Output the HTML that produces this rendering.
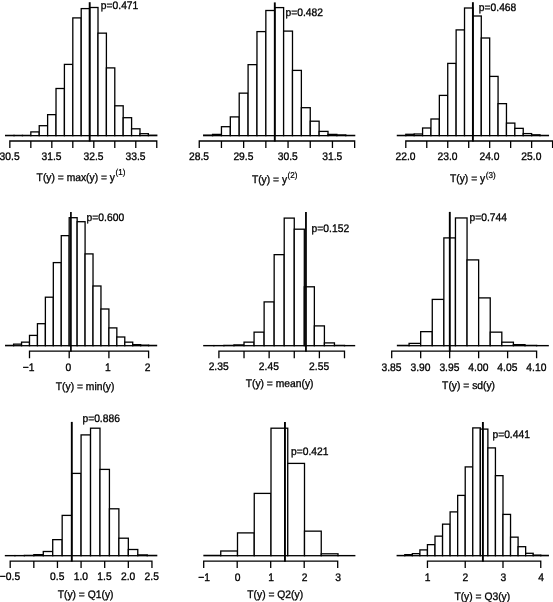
<!DOCTYPE html>
<html><head><meta charset="utf-8"><title>Posterior predictive checks</title>
<style>
html,body{margin:0;padding:0;background:#fff;}
svg{display:block;will-change:transform;filter:grayscale(1);}
text{text-rendering:geometricPrecision;}
text{font-family:"Liberation Sans",sans-serif;font-size:10.3px;fill:#000;stroke:#000;stroke-width:0.3px;}
.s{font-size:8.1px;stroke-width:0.2px;}
.l{stroke:#000;stroke-width:1.3;fill:none;}
.b{stroke:#000;stroke-width:1.3;fill:#fff;}
</style></head>
<body>
<svg width="553" height="602" viewBox="0 0 553 602">
<rect x="0" y="0" width="553" height="602" fill="#fff"/>
<g id="panel1">
<g transform="translate(0,0.4)">
<rect class="b" x="5.64" y="135" width="8.4" height="0.25"/>
<rect class="b" x="14.04" y="135" width="8.4" height="0.25"/>
<rect class="b" x="22.43" y="135" width="8.4" height="0.25"/>
<rect class="b" x="30.83" y="131.5" width="8.4" height="3.75"/>
<rect class="b" x="39.23" y="125.3" width="8.4" height="9.95"/>
<rect class="b" x="47.62" y="114.25" width="8.4" height="21"/>
<rect class="b" x="56.02" y="88.1" width="8.4" height="47.15"/>
<rect class="b" x="64.41" y="64" width="8.4" height="71.25"/>
<rect class="b" x="72.81" y="17.5" width="8.4" height="117.75"/>
<rect class="b" x="81.21" y="8.2" width="8.4" height="127.05"/>
<rect class="b" x="89.6" y="7.1" width="8.4" height="128.15"/>
<rect class="b" x="98" y="32.75" width="8.4" height="102.5"/>
<rect class="b" x="106.39" y="67.5" width="8.4" height="67.75"/>
<rect class="b" x="114.79" y="105.4" width="8.4" height="29.85"/>
<rect class="b" x="123.19" y="117.3" width="8.4" height="17.95"/>
<rect class="b" x="131.58" y="128.4" width="8.4" height="6.85"/>
<rect class="b" x="139.98" y="133.3" width="8.4" height="1.95"/>
<rect class="b" x="148.37" y="134.8" width="8.4" height="0.45"/>
<path class="l" d="M9.84 147.6 V140.6 H156.77 V147.6 M30.83 140.6 v7 M51.82 140.6 v7 M72.81 140.6 v7 M93.8 140.6 v7 M114.79 140.6 v7 M135.78 140.6 v7"/>
<line x1="89.7" y1="1.8" x2="89.7" y2="141.2" stroke="#000" stroke-width="1.9"/>
</g>
<text transform="translate(9.59 160.45) scale(1 1.06)" text-anchor="middle">30.5</text>
<text transform="translate(51.57 160.45) scale(1 1.06)" text-anchor="middle">31.5</text>
<text transform="translate(93.55 160.45) scale(1 1.06)" text-anchor="middle">32.5</text>
<text transform="translate(135.53 160.45) scale(1 1.06)" text-anchor="middle">33.5</text>
<text transform="translate(100.8 8.9) scale(1 1.06)">p=0.471</text>
<text transform="translate(36.6 181.3) scale(1 1.06)">T(y) = max(y) = y<tspan class="s" dx="0.5" dy="-5.66038">(1)</tspan></text>
</g>
<g id="panel2">
<g transform="translate(0,0.4)">
<rect class="b" x="203.69" y="134.7" width="8.88" height="0.55"/>
<rect class="b" x="212.57" y="134" width="8.88" height="1.25"/>
<rect class="b" x="221.45" y="126.3" width="8.88" height="8.95"/>
<rect class="b" x="230.33" y="116.5" width="8.88" height="18.75"/>
<rect class="b" x="239.21" y="92.75" width="8.88" height="42.5"/>
<rect class="b" x="248.09" y="64.25" width="8.88" height="71"/>
<rect class="b" x="256.97" y="31.2" width="8.88" height="104.05"/>
<rect class="b" x="265.85" y="10.1" width="8.88" height="125.15"/>
<rect class="b" x="274.73" y="7.2" width="8.88" height="128.05"/>
<rect class="b" x="283.61" y="30.7" width="8.88" height="104.55"/>
<rect class="b" x="292.49" y="70" width="8.88" height="65.25"/>
<rect class="b" x="301.37" y="107.3" width="8.88" height="27.95"/>
<rect class="b" x="310.25" y="120.8" width="8.88" height="14.45"/>
<rect class="b" x="319.13" y="131" width="8.88" height="4.25"/>
<rect class="b" x="328.01" y="134" width="8.88" height="1.25"/>
<rect class="b" x="336.89" y="134.5" width="8.88" height="0.75"/>
<rect class="b" x="345.77" y="135" width="8.88" height="0.25"/>
<path class="l" d="M199.25 147.6 V140.6 H354.65 V147.6 M221.45 140.6 v7 M243.65 140.6 v7 M265.85 140.6 v7 M288.05 140.6 v7 M310.25 140.6 v7 M332.45 140.6 v7"/>
<line x1="274.8" y1="2" x2="274.8" y2="141.2" stroke="#000" stroke-width="1.9"/>
</g>
<text transform="translate(199 160.45) scale(1 1.06)" text-anchor="middle">28.5</text>
<text transform="translate(243.4 160.45) scale(1 1.06)" text-anchor="middle">29.5</text>
<text transform="translate(287.8 160.45) scale(1 1.06)" text-anchor="middle">30.5</text>
<text transform="translate(332.2 160.45) scale(1 1.06)" text-anchor="middle">31.5</text>
<text transform="translate(285.5 15.5) scale(1 1.06)">p=0.482</text>
<text transform="translate(251.9 182.6) scale(1 1.06)">T(y) = y<tspan class="s" dx="0.5" dy="-4.62264">(2)</tspan></text>
</g>
<g id="panel3">
<g transform="translate(0,0.4)">
<rect class="b" x="397.41" y="135" width="8.39" height="0.25"/>
<rect class="b" x="405.8" y="133.9" width="8.39" height="1.35"/>
<rect class="b" x="414.19" y="133.6" width="8.39" height="1.65"/>
<rect class="b" x="422.58" y="127.6" width="8.39" height="7.65"/>
<rect class="b" x="430.96" y="118.6" width="8.39" height="16.65"/>
<rect class="b" x="439.35" y="95" width="8.39" height="40.25"/>
<rect class="b" x="447.74" y="63" width="8.39" height="72.25"/>
<rect class="b" x="456.13" y="29.5" width="8.39" height="105.75"/>
<rect class="b" x="464.52" y="7.6" width="8.39" height="127.65"/>
<rect class="b" x="472.9" y="15.6" width="8.39" height="119.65"/>
<rect class="b" x="481.29" y="37.6" width="8.39" height="97.65"/>
<rect class="b" x="489.68" y="76" width="8.39" height="59.25"/>
<rect class="b" x="498.07" y="103.25" width="8.39" height="32"/>
<rect class="b" x="506.46" y="122.7" width="8.39" height="12.55"/>
<rect class="b" x="514.84" y="127.95" width="8.39" height="7.3"/>
<rect class="b" x="523.23" y="133.2" width="8.39" height="2.05"/>
<rect class="b" x="531.62" y="134.4" width="8.39" height="0.85"/>
<rect class="b" x="540.01" y="135" width="8.39" height="0.25"/>
<path class="l" d="M405.8 147.6 V140.6 H552.59 V147.6 M426.77 140.6 v7 M447.74 140.6 v7 M468.71 140.6 v7 M489.68 140.6 v7 M510.65 140.6 v7 M531.62 140.6 v7"/>
<line x1="472.9" y1="1.8" x2="472.9" y2="141.2" stroke="#000" stroke-width="1.9"/>
</g>
<text transform="translate(405.55 160.45) scale(1 1.06)" text-anchor="middle">22.0</text>
<text transform="translate(447.49 160.45) scale(1 1.06)" text-anchor="middle">23.0</text>
<text transform="translate(489.43 160.45) scale(1 1.06)" text-anchor="middle">24.0</text>
<text transform="translate(531.37 160.45) scale(1 1.06)" text-anchor="middle">25.0</text>
<text transform="translate(478.8 10.5) scale(1 1.06)">p=0.468</text>
<text transform="translate(450 182.25) scale(1 1.06)">T(y) = y<tspan class="s" dx="0.5" dy="-4.24528">(3)</tspan></text>
</g>
<g id="panel4">
<g transform="translate(0,0.4)">
<rect class="b" x="5.68" y="345" width="7.94" height="0.3"/>
<rect class="b" x="13.62" y="343.75" width="7.94" height="1.55"/>
<rect class="b" x="21.56" y="341.75" width="7.94" height="3.55"/>
<rect class="b" x="29.5" y="335" width="7.94" height="10.3"/>
<rect class="b" x="37.44" y="323.3" width="7.94" height="22"/>
<rect class="b" x="45.38" y="296.8" width="7.94" height="48.5"/>
<rect class="b" x="53.32" y="262.2" width="7.94" height="83.1"/>
<rect class="b" x="61.26" y="235.25" width="7.94" height="110.05"/>
<rect class="b" x="69.2" y="217.3" width="7.94" height="128"/>
<rect class="b" x="77.14" y="221.3" width="7.94" height="124"/>
<rect class="b" x="85.08" y="253.5" width="7.94" height="91.8"/>
<rect class="b" x="93.02" y="285.6" width="7.94" height="59.7"/>
<rect class="b" x="100.96" y="308.6" width="7.94" height="36.7"/>
<rect class="b" x="108.9" y="327.5" width="7.94" height="17.8"/>
<rect class="b" x="116.84" y="336.6" width="7.94" height="8.7"/>
<rect class="b" x="124.78" y="341.75" width="7.94" height="3.55"/>
<rect class="b" x="132.72" y="344.25" width="7.94" height="1.05"/>
<rect class="b" x="140.66" y="344.75" width="7.94" height="0.55"/>
<rect class="b" x="148.6" y="345" width="7.94" height="0.3"/>
<path class="l" d="M29.5 357.8 V350.8 H148.6 V357.8 M69.2 350.8 v7 M108.9 350.8 v7"/>
<line x1="70.9" y1="211.5" x2="70.9" y2="351.4" stroke="#000" stroke-width="1.7"/>
</g>
<text transform="translate(28.55 371.35) scale(1 1.06)" text-anchor="middle">−1</text>
<text transform="translate(68.25 371.35) scale(1 1.06)" text-anchor="middle">0</text>
<text transform="translate(107.95 371.35) scale(1 1.06)" text-anchor="middle">1</text>
<text transform="translate(147.65 371.35) scale(1 1.06)" text-anchor="middle">2</text>
<text transform="translate(86.6 220.5) scale(1 1.06)">p=0.600</text>
<text transform="translate(55.8 389.5) scale(1 1.06)">T(y) = min(y)</text>
</g>
<g id="panel5">
<g transform="translate(0,0.4)">
<rect class="b" x="203.83" y="345.2" width="10.05" height="0.1"/>
<rect class="b" x="213.88" y="345.2" width="10.05" height="0.1"/>
<rect class="b" x="223.92" y="345" width="10.05" height="0.3"/>
<rect class="b" x="233.97" y="344.5" width="10.05" height="0.8"/>
<rect class="b" x="244.02" y="341.75" width="10.05" height="3.55"/>
<rect class="b" x="254.07" y="331.75" width="10.05" height="13.55"/>
<rect class="b" x="264.12" y="301.5" width="10.05" height="43.8"/>
<rect class="b" x="274.16" y="254.25" width="10.05" height="91.05"/>
<rect class="b" x="284.21" y="217.7" width="10.05" height="127.6"/>
<rect class="b" x="294.26" y="228.8" width="10.05" height="116.5"/>
<rect class="b" x="304.31" y="286.4" width="10.05" height="58.9"/>
<rect class="b" x="314.36" y="325.5" width="10.05" height="19.8"/>
<rect class="b" x="324.4" y="342.5" width="10.05" height="2.8"/>
<rect class="b" x="334.45" y="345" width="10.05" height="0.3"/>
<rect class="b" x="344.5" y="345.2" width="10.05" height="0.1"/>
<path class="l" d="M218.9 357.8 V350.8 H344.5 V357.8 M244.02 350.8 v7 M269.14 350.8 v7 M294.26 350.8 v7 M319.38 350.8 v7"/>
<line x1="305.95" y1="211.5" x2="305.95" y2="351.4" stroke="#000" stroke-width="1.8"/>
</g>
<text transform="translate(218.65 370.25) scale(1 1.06)" text-anchor="middle">2.35</text>
<text transform="translate(268.89 370.25) scale(1 1.06)" text-anchor="middle">2.45</text>
<text transform="translate(319.13 370.25) scale(1 1.06)" text-anchor="middle">2.55</text>
<text transform="translate(311.6 232) scale(1 1.06)">p=0.152</text>
<text transform="translate(245.7 387.3) scale(1 1.06)">T(y) = mean(y)</text>
</g>
<g id="panel6">
<g transform="translate(0,0.4)">
<rect class="b" x="397.5" y="345" width="11.59" height="0.3"/>
<rect class="b" x="409.09" y="343" width="11.59" height="2.3"/>
<rect class="b" x="420.68" y="331.25" width="11.59" height="14.05"/>
<rect class="b" x="432.27" y="299" width="11.59" height="46.3"/>
<rect class="b" x="443.86" y="237.5" width="11.59" height="107.8"/>
<rect class="b" x="455.46" y="217.55" width="11.59" height="127.75"/>
<rect class="b" x="467.05" y="259.5" width="11.59" height="85.8"/>
<rect class="b" x="478.64" y="297.5" width="11.59" height="47.8"/>
<rect class="b" x="490.23" y="331.75" width="11.59" height="13.55"/>
<rect class="b" x="501.82" y="341.8" width="11.59" height="3.5"/>
<rect class="b" x="513.42" y="344.25" width="11.59" height="1.05"/>
<rect class="b" x="525.01" y="345" width="11.59" height="0.3"/>
<rect class="b" x="536.6" y="345.2" width="11.59" height="0.1"/>
<path class="l" d="M391.7 357.8 V350.8 H536.6 V357.8 M420.68 350.8 v7 M449.66 350.8 v7 M478.64 350.8 v7 M507.62 350.8 v7"/>
<line x1="449.8" y1="211.5" x2="449.8" y2="351.4" stroke="#000" stroke-width="1.9"/>
</g>
<text transform="translate(391.45 370.95) scale(1 1.06)" text-anchor="middle">3.85</text>
<text transform="translate(420.43 370.95) scale(1 1.06)" text-anchor="middle">3.90</text>
<text transform="translate(449.41 370.95) scale(1 1.06)" text-anchor="middle">3.95</text>
<text transform="translate(478.39 370.95) scale(1 1.06)" text-anchor="middle">4.00</text>
<text transform="translate(507.37 370.95) scale(1 1.06)" text-anchor="middle">4.05</text>
<text transform="translate(536.35 370.95) scale(1 1.06)" text-anchor="middle">4.10</text>
<text transform="translate(469.5 220.5) scale(1 1.06)">p=0.744</text>
<text transform="translate(442.1 388.5) scale(1 1.06)">T(y) = sd(y)</text>
</g>
<g id="panel7">
<g transform="translate(0,0.4)">
<rect class="b" x="5.48" y="555.2" width="9.45" height="0.1"/>
<rect class="b" x="14.93" y="555.2" width="9.45" height="0.1"/>
<rect class="b" x="24.38" y="555" width="9.45" height="0.3"/>
<rect class="b" x="33.83" y="554.25" width="9.45" height="1.05"/>
<rect class="b" x="43.28" y="551.1" width="9.45" height="4.2"/>
<rect class="b" x="52.72" y="539.25" width="9.45" height="16.05"/>
<rect class="b" x="62.17" y="515" width="9.45" height="40.3"/>
<rect class="b" x="71.63" y="473" width="9.45" height="82.3"/>
<rect class="b" x="81.08" y="434.5" width="9.45" height="120.8"/>
<rect class="b" x="90.53" y="427.8" width="9.45" height="127.5"/>
<rect class="b" x="99.97" y="469" width="9.45" height="86.3"/>
<rect class="b" x="109.43" y="508.4" width="9.45" height="46.9"/>
<rect class="b" x="118.88" y="537.8" width="9.45" height="17.5"/>
<rect class="b" x="128.32" y="549.1" width="9.45" height="6.2"/>
<rect class="b" x="137.78" y="554.5" width="9.45" height="0.8"/>
<rect class="b" x="147.22" y="555" width="9.45" height="0.3"/>
<path class="l" d="M10.2 567.7 V560.7 H151.95 V567.7 M33.83 560.7 v7 M57.45 560.7 v7 M81.08 560.7 v7 M104.7 560.7 v7 M128.32 560.7 v7"/>
<line x1="71.8" y1="421.5" x2="71.8" y2="561.3" stroke="#000" stroke-width="1.9"/>
</g>
<text transform="translate(9.95 580.25) scale(1 1.06)" text-anchor="middle">−0.5</text>
<text transform="translate(57.2 580.25) scale(1 1.06)" text-anchor="middle">0.5</text>
<text transform="translate(80.83 580.25) scale(1 1.06)" text-anchor="middle">1.0</text>
<text transform="translate(104.45 580.25) scale(1 1.06)" text-anchor="middle">1.5</text>
<text transform="translate(128.07 580.25) scale(1 1.06)" text-anchor="middle">2.0</text>
<text transform="translate(151.7 580.25) scale(1 1.06)" text-anchor="middle">2.5</text>
<text transform="translate(82.4 422.3) scale(1 1.06)">p=0.886</text>
<text transform="translate(57.7 598.1) scale(1 1.06)">T(y) = Q1(y)</text>
</g>
<g id="panel8">
<g transform="translate(0,0.4)">
<rect class="b" x="204" y="555" width="16.75" height="0.3"/>
<rect class="b" x="220.75" y="550.6" width="16.75" height="4.7"/>
<rect class="b" x="237.5" y="532.5" width="16.75" height="22.8"/>
<rect class="b" x="254.25" y="493" width="16.75" height="62.3"/>
<rect class="b" x="271" y="427.8" width="16.75" height="127.5"/>
<rect class="b" x="287.75" y="463" width="16.75" height="92.3"/>
<rect class="b" x="304.5" y="530.75" width="16.75" height="24.55"/>
<rect class="b" x="321.25" y="553.4" width="16.75" height="1.9"/>
<rect class="b" x="338" y="555.2" width="16.75" height="0.1"/>
<path class="l" d="M203.7 567.7 V560.7 H337.7 V567.7 M237.2 560.7 v7 M270.7 560.7 v7 M304.2 560.7 v7"/>
<line x1="284.95" y1="421.6" x2="284.95" y2="561.3" stroke="#000" stroke-width="1.9"/>
</g>
<text transform="translate(204.1 581.15) scale(1 1.06)" text-anchor="middle">−1</text>
<text transform="translate(237.6 581.15) scale(1 1.06)" text-anchor="middle">0</text>
<text transform="translate(271.1 581.15) scale(1 1.06)" text-anchor="middle">1</text>
<text transform="translate(304.6 581.15) scale(1 1.06)" text-anchor="middle">2</text>
<text transform="translate(338.1 581.15) scale(1 1.06)" text-anchor="middle">3</text>
<text transform="translate(291 455) scale(1 1.06)">p=0.421</text>
<text transform="translate(247.3 598) scale(1 1.06)">T(y) = Q2(y)</text>
</g>
<g id="panel9">
<g transform="translate(0,0.4)">
<rect class="b" x="397.23" y="555.1" width="7.55" height="0.2"/>
<rect class="b" x="404.79" y="554.25" width="7.55" height="1.05"/>
<rect class="b" x="412.34" y="553.25" width="7.55" height="2.05"/>
<rect class="b" x="419.9" y="549.5" width="7.55" height="5.8"/>
<rect class="b" x="427.45" y="544.25" width="7.55" height="11.05"/>
<rect class="b" x="435" y="535.75" width="7.55" height="19.55"/>
<rect class="b" x="442.56" y="523.75" width="7.55" height="31.55"/>
<rect class="b" x="450.11" y="511.5" width="7.55" height="43.8"/>
<rect class="b" x="457.67" y="495" width="7.55" height="60.3"/>
<rect class="b" x="465.22" y="466.5" width="7.55" height="88.8"/>
<rect class="b" x="472.77" y="427.5" width="7.55" height="127.8"/>
<rect class="b" x="480.33" y="428.7" width="7.55" height="126.6"/>
<rect class="b" x="487.88" y="447.5" width="7.55" height="107.8"/>
<rect class="b" x="495.44" y="475.25" width="7.55" height="80.05"/>
<rect class="b" x="502.99" y="514" width="7.55" height="41.3"/>
<rect class="b" x="510.54" y="536.75" width="7.55" height="18.55"/>
<rect class="b" x="518.1" y="546.3" width="7.55" height="9"/>
<rect class="b" x="525.65" y="552.9" width="7.55" height="2.4"/>
<rect class="b" x="533.21" y="554.7" width="7.55" height="0.6"/>
<rect class="b" x="540.76" y="555" width="7.55" height="0.3"/>
<path class="l" d="M427.45 567.7 V560.7 H540.76 V567.7 M465.22 560.7 v7 M502.99 560.7 v7"/>
<line x1="482.9" y1="421.6" x2="482.9" y2="561.3" stroke="#000" stroke-width="1.9"/>
</g>
<text transform="translate(427.7 580.55) scale(1 1.06)" text-anchor="middle">1</text>
<text transform="translate(465.47 580.55) scale(1 1.06)" text-anchor="middle">2</text>
<text transform="translate(503.24 580.55) scale(1 1.06)" text-anchor="middle">3</text>
<text transform="translate(541.01 580.55) scale(1 1.06)" text-anchor="middle">4</text>
<text transform="translate(492.4 437.6) scale(1 1.06)">p=0.441</text>
<text transform="translate(454.4 599.6) scale(1 1.06)">T(y) = Q3(y)</text>
</g>
</svg>
</body></html>
